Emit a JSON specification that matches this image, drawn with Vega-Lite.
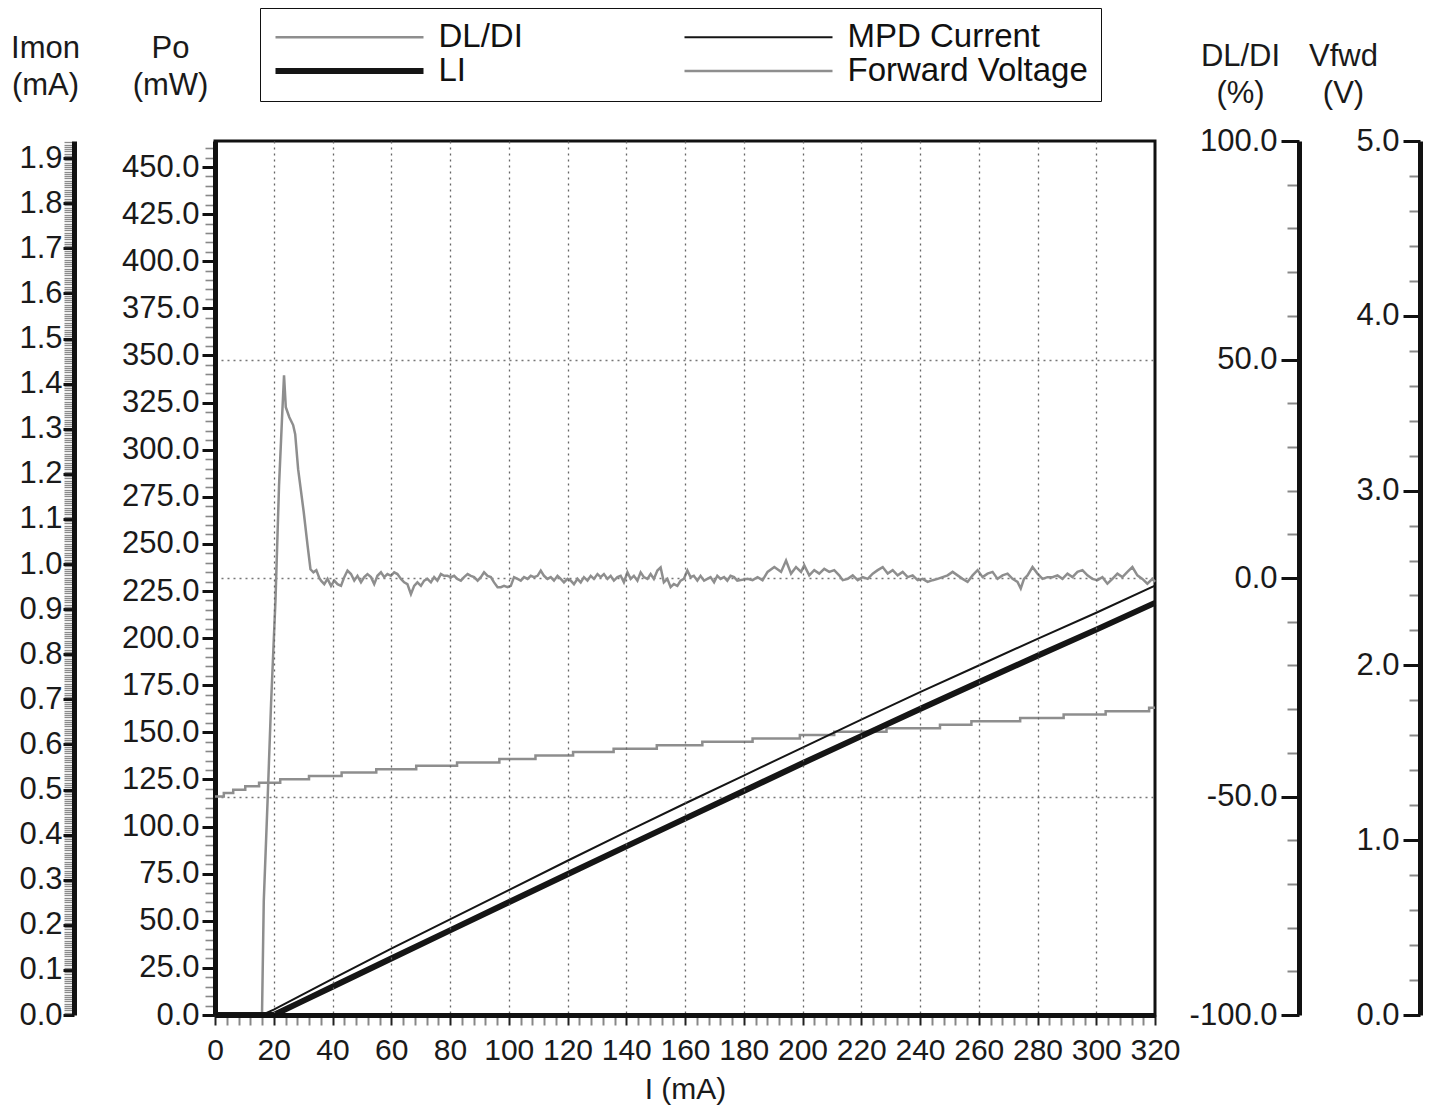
{
"$schema": "https://vega.github.io/schema/vega-lite/v6.json",
"width": 940, "height": 874,
"autosize": {"type": "none"},
"padding": {"left": 215, "top": 141, "right": 280, "bottom": 94},
"background": "white",
"config": {
 "font": "Liberation Sans",
 "view": {"stroke": "#111", "strokeWidth": 3},
 "axis": {"labelFont": "Liberation Sans", "titleFont": "Liberation Sans", "labelColor": "#1a1a1a", "titleColor": "#1a1a1a", "titleFontWeight": "normal", "domainColor": "#111", "domainWidth": 5, "labelOverlap": false, "labelBound": false, "labelFlush": false, "grid": false},
 "legend": {"orient": "none", "legendX": 45, "legendY": -133, "columns": 2, "gridAlign": "all", "columnPadding": 2, "rowPadding": 0, "clipHeight": 33, "symbolType": "stroke", "symbolSize": 21904, "labelFontSize": 33, "labelFont": "Liberation Sans", "labelColor": "#111", "labelOffset": 12, "labelLimit": 0, "padding": 12.5, "strokeColor": "#111", "fillColor": "white"}
},
"datasets": {"d": [
{"s":"DL/DI","I":0,"v":-100},{"s":"DL/DI","I":16,"v":-100},{"s":"DL/DI","I":16.6,"v":-74},{"s":"DL/DI","I":17.9,"v":-51},{"s":"DL/DI","I":19.1,"v":-28.5},{"s":"DL/DI","I":20.6,"v":-4.9},{"s":"DL/DI","I":21.8,"v":21.2},{"s":"DL/DI","I":22.8,"v":36.3},{"s":"DL/DI","I":23.5,"v":46.4},{"s":"DL/DI","I":24.1,"v":39.1},{"s":"DL/DI","I":25.3,"v":36.8},{"s":"DL/DI","I":26.6,"v":35.0},{"s":"DL/DI","I":27.3,"v":32.9},{"s":"DL/DI","I":28.3,"v":24.9},{"s":"DL/DI","I":30.2,"v":15.1},{"s":"DL/DI","I":31.5,"v":7.5},{"s":"DL/DI","I":32.5,"v":2.0},{"s":"DL/DI","I":33.5,"v":1.3},{"s":"DL/DI","I":34.5,"v":1.8},{"s":"DL/DI","I":35.5,"v":0.0},
{"s":"DL/DI","I":36.1,"v":-0.6},{"s":"DL/DI","I":37.2,"v":-1.4},{"s":"DL/DI","I":38.3,"v":-0.2},{"s":"DL/DI","I":39.5,"v":-1.8},{"s":"DL/DI","I":40.6,"v":-0.6},{"s":"DL/DI","I":41.7,"v":-1.4},{"s":"DL/DI","I":42.9,"v":-1.8},{"s":"DL/DI","I":44.0,"v":0.2},{"s":"DL/DI","I":45.1,"v":1.7},{"s":"DL/DI","I":46.3,"v":0.9},{"s":"DL/DI","I":47.4,"v":-0.6},{"s":"DL/DI","I":48.5,"v":0.5},{"s":"DL/DI","I":49.7,"v":-1.0},{"s":"DL/DI","I":50.8,"v":0.2},{"s":"DL/DI","I":51.9,"v":0.9},{"s":"DL/DI","I":53.1,"v":0.2},{"s":"DL/DI","I":54.2,"v":-1.4},{"s":"DL/DI","I":55.3,"v":0.5},{"s":"DL/DI","I":56.5,"v":1.3},{"s":"DL/DI","I":57.6,"v":0.2},{"s":"DL/DI","I":58.7,"v":0.9},{"s":"DL/DI","I":59.9,"v":0.5},{"s":"DL/DI","I":61.0,"v":1.3},{"s":"DL/DI","I":62.1,"v":0.9},{"s":"DL/DI","I":63.3,"v":-0.2},{"s":"DL/DI","I":64.4,"v":-1.0},{"s":"DL/DI","I":65.5,"v":-1.4},{"s":"DL/DI","I":66.7,"v":-3.7},{"s":"DL/DI","I":67.8,"v":-1.8},{"s":"DL/DI","I":68.9,"v":-1.0},{"s":"DL/DI","I":70.1,"v":-1.8},{"s":"DL/DI","I":71.2,"v":-0.6},{"s":"DL/DI","I":72.3,"v":-0.2},{"s":"DL/DI","I":73.5,"v":-1.0},{"s":"DL/DI","I":74.6,"v":0.2},{"s":"DL/DI","I":75.7,"v":-0.6},{"s":"DL/DI","I":76.9,"v":0.9},{"s":"DL/DI","I":78.0,"v":0.5},{"s":"DL/DI","I":79.1,"v":0.5},{"s":"DL/DI","I":80.3,"v":0.2},{"s":"DL/DI","I":81.4,"v":0.5},{"s":"DL/DI","I":82.5,"v":-0.2},{"s":"DL/DI","I":83.7,"v":-0.6},{"s":"DL/DI","I":84.8,"v":0.2},{"s":"DL/DI","I":86.0,"v":0.9},{"s":"DL/DI","I":87.1,"v":0.5},{"s":"DL/DI","I":88.2,"v":0.2},{"s":"DL/DI","I":89.4,"v":-0.6},{"s":"DL/DI","I":90.5,"v":0.2},{"s":"DL/DI","I":91.6,"v":1.3},{"s":"DL/DI","I":92.8,"v":0.5},{"s":"DL/DI","I":93.9,"v":0.2},{"s":"DL/DI","I":95.0,"v":-1.0},{"s":"DL/DI","I":96.2,"v":-2.1},{"s":"DL/DI","I":97.3,"v":-2.1},{"s":"DL/DI","I":98.4,"v":-1.8},{"s":"DL/DI","I":99.6,"v":-2.1},{"s":"DL/DI","I":100.7,"v":-1.8},{"s":"DL/DI","I":101.8,"v":0.2},{"s":"DL/DI","I":103.0,"v":-0.2},{"s":"DL/DI","I":104.1,"v":-0.6},{"s":"DL/DI","I":105.2,"v":0.2},{"s":"DL/DI","I":106.4,"v":-0.2},{"s":"DL/DI","I":107.5,"v":0.5},{"s":"DL/DI","I":108.6,"v":0.2},{"s":"DL/DI","I":109.8,"v":0.5},{"s":"DL/DI","I":110.9,"v":1.7},{"s":"DL/DI","I":112.0,"v":0.5},{"s":"DL/DI","I":113.2,"v":-0.2},{"s":"DL/DI","I":114.3,"v":0.2},{"s":"DL/DI","I":115.4,"v":-0.6},{"s":"DL/DI","I":116.6,"v":0.5},{"s":"DL/DI","I":117.7,"v":-0.2},{"s":"DL/DI","I":118.8,"v":-1.0},{"s":"DL/DI","I":120.0,"v":-0.2},{"s":"DL/DI","I":121.1,"v":-0.6},{"s":"DL/DI","I":122.2,"v":-1.4},{"s":"DL/DI","I":123.4,"v":-0.2},{"s":"DL/DI","I":124.5,"v":-1.0},{"s":"DL/DI","I":125.6,"v":0.2},{"s":"DL/DI","I":126.8,"v":-0.6},{"s":"DL/DI","I":127.9,"v":0.5},{"s":"DL/DI","I":129.0,"v":-0.2},{"s":"DL/DI","I":130.2,"v":0.9},{"s":"DL/DI","I":131.3,"v":0.2},{"s":"DL/DI","I":132.4,"v":0.9},{"s":"DL/DI","I":133.6,"v":-0.2},{"s":"DL/DI","I":134.7,"v":0.5},{"s":"DL/DI","I":135.8,"v":-0.6},{"s":"DL/DI","I":137.0,"v":0.2},{"s":"DL/DI","I":138.1,"v":0.5},{"s":"DL/DI","I":139.2,"v":-1.0},{"s":"DL/DI","I":140.4,"v":1.3},{"s":"DL/DI","I":141.5,"v":-0.2},{"s":"DL/DI","I":142.6,"v":0.5},{"s":"DL/DI","I":143.8,"v":-0.6},{"s":"DL/DI","I":144.9,"v":1.3},{"s":"DL/DI","I":146.0,"v":0.2},{"s":"DL/DI","I":147.2,"v":-0.2},{"s":"DL/DI","I":148.3,"v":0.9},{"s":"DL/DI","I":149.4,"v":-0.2},{"s":"DL/DI","I":150.6,"v":1.7},{"s":"DL/DI","I":151.7,"v":2.4},{"s":"DL/DI","I":152.8,"v":-1.0},{"s":"DL/DI","I":154.0,"v":-0.2},{"s":"DL/DI","I":155.1,"v":-2.1},{"s":"DL/DI","I":156.2,"v":-1.4},{"s":"DL/DI","I":157.4,"v":-1.8},{"s":"DL/DI","I":158.5,"v":-0.6},{"s":"DL/DI","I":159.6,"v":-0.2},{"s":"DL/DI","I":160.8,"v":1.7},{"s":"DL/DI","I":161.9,"v":0.2},{"s":"DL/DI","I":163.0,"v":0.5},{"s":"DL/DI","I":164.2,"v":-0.6},{"s":"DL/DI","I":165.3,"v":0.5},{"s":"DL/DI","I":166.5,"v":-0.6},{"s":"DL/DI","I":167.6,"v":-0.2},{"s":"DL/DI","I":168.7,"v":0.2},{"s":"DL/DI","I":169.9,"v":-1.0},{"s":"DL/DI","I":171.0,"v":0.5},{"s":"DL/DI","I":172.1,"v":-0.2},{"s":"DL/DI","I":173.3,"v":0.2},{"s":"DL/DI","I":174.4,"v":-0.6},{"s":"DL/DI","I":175.5,"v":0.5},{"s":"DL/DI","I":176.7,"v":0.2},{"s":"DL/DI","I":177.8,"v":-0.6},
{"s":"DL/DI","I":181.3,"v":-0.2},{"s":"DL/DI","I":183.0,"v":-0.5},{"s":"DL/DI","I":184.7,"v":0.2},{"s":"DL/DI","I":186.4,"v":-0.5},{"s":"DL/DI","I":188.1,"v":1.4},{"s":"DL/DI","I":190.4,"v":2.5},{"s":"DL/DI","I":192.7,"v":1.4},{"s":"DL/DI","I":194.4,"v":4.0},{"s":"DL/DI","I":196.1,"v":1.0},{"s":"DL/DI","I":197.8,"v":2.5},{"s":"DL/DI","I":199.5,"v":1.4},{"s":"DL/DI","I":200.6,"v":2.9},{"s":"DL/DI","I":202.3,"v":0.6},{"s":"DL/DI","I":204.0,"v":1.8},{"s":"DL/DI","I":205.7,"v":1.0},{"s":"DL/DI","I":207.4,"v":2.1},{"s":"DL/DI","I":209.1,"v":1.4},{"s":"DL/DI","I":210.8,"v":1.8},{"s":"DL/DI","I":212.5,"v":0.6},{"s":"DL/DI","I":213.7,"v":-0.5},{"s":"DL/DI","I":215.4,"v":-0.2},{"s":"DL/DI","I":217.1,"v":0.6},{"s":"DL/DI","I":218.8,"v":-0.5},{"s":"DL/DI","I":220.5,"v":0.2},{"s":"DL/DI","I":222.2,"v":-0.2},{"s":"DL/DI","I":223.9,"v":1.0},{"s":"DL/DI","I":225.6,"v":1.8},{"s":"DL/DI","I":227.3,"v":2.5},{"s":"DL/DI","I":229.0,"v":1.0},{"s":"DL/DI","I":230.7,"v":1.8},{"s":"DL/DI","I":232.4,"v":0.6},{"s":"DL/DI","I":234.1,"v":1.4},{"s":"DL/DI","I":235.8,"v":0.2},{"s":"DL/DI","I":237.5,"v":0.6},{"s":"DL/DI","I":239.2,"v":-0.5},{"s":"DL/DI","I":240.9,"v":-0.2},{"s":"DL/DI","I":242.6,"v":-0.9},{"s":"DL/DI","I":244.3,"v":-0.5},{"s":"DL/DI","I":246.0,"v":-0.2},{"s":"DL/DI","I":247.7,"v":0.2},{"s":"DL/DI","I":249.4,"v":0.6},{"s":"DL/DI","I":251.1,"v":1.4},{"s":"DL/DI","I":252.8,"v":0.6},{"s":"DL/DI","I":254.5,"v":-0.2},{"s":"DL/DI","I":256.2,"v":-0.9},{"s":"DL/DI","I":257.9,"v":0.6},{"s":"DL/DI","I":259.6,"v":1.8},{"s":"DL/DI","I":261.3,"v":0.2},{"s":"DL/DI","I":263.0,"v":1.0},{"s":"DL/DI","I":264.7,"v":1.4},{"s":"DL/DI","I":266.4,"v":-0.2},{"s":"DL/DI","I":268.1,"v":0.6},{"s":"DL/DI","I":269.8,"v":1.0},{"s":"DL/DI","I":271.5,"v":-0.2},{"s":"DL/DI","I":273.2,"v":-0.9},{"s":"DL/DI","I":274.3,"v":-2.4},{"s":"DL/DI","I":275.4,"v":-0.2},{"s":"DL/DI","I":276.6,"v":0.6},{"s":"DL/DI","I":278.3,"v":2.5},{"s":"DL/DI","I":280.0,"v":1.0},{"s":"DL/DI","I":281.7,"v":-0.2},{"s":"DL/DI","I":283.4,"v":0.2},{"s":"DL/DI","I":285.1,"v":0.2},{"s":"DL/DI","I":286.8,"v":0.6},{"s":"DL/DI","I":288.5,"v":-0.2},{"s":"DL/DI","I":290.2,"v":1.0},{"s":"DL/DI","I":291.9,"v":0.2},{"s":"DL/DI","I":293.6,"v":1.4},{"s":"DL/DI","I":295.3,"v":1.8},{"s":"DL/DI","I":297.0,"v":0.6},{"s":"DL/DI","I":298.7,"v":-0.2},{"s":"DL/DI","I":300.4,"v":-0.5},{"s":"DL/DI","I":302.1,"v":0.2},{"s":"DL/DI","I":303.8,"v":-1.3},{"s":"DL/DI","I":305.5,"v":-0.2},{"s":"DL/DI","I":307.2,"v":1.0},{"s":"DL/DI","I":308.9,"v":0.2},{"s":"DL/DI","I":310.6,"v":1.4},{"s":"DL/DI","I":312.3,"v":2.5},{"s":"DL/DI","I":314.0,"v":0.6},{"s":"DL/DI","I":315.7,"v":-0.2},{"s":"DL/DI","I":317.4,"v":-1.3},{"s":"DL/DI","I":319.1,"v":-0.2},{"s":"DL/DI","I":320.0,"v":-0.9},
{"s":"LI","I":0,"v":0},{"s":"LI","I":10,"v":0},{"s":"LI","I":20,"v":0},{"s":"LI","I":30,"v":7.5},{"s":"LI","I":40,"v":15.0},{"s":"LI","I":60,"v":30.0},{"s":"LI","I":80,"v":44.9},{"s":"LI","I":100,"v":59.8},{"s":"LI","I":120,"v":74.7},{"s":"LI","I":140,"v":89.5},{"s":"LI","I":160,"v":104.2},{"s":"LI","I":180,"v":118.9},{"s":"LI","I":200,"v":133.6},{"s":"LI","I":220,"v":148.0},{"s":"LI","I":240,"v":162.4},{"s":"LI","I":260,"v":176.6},{"s":"LI","I":280,"v":190.6},{"s":"LI","I":300,"v":204.5},{"s":"LI","I":320,"v":218.7},
{"s":"MPD Current","I":0,"v":0},{"s":"MPD Current","I":16,"v":0},{"s":"MPD Current","I":20,"v":0.012},{"s":"MPD Current","I":40,"v":0.080},{"s":"MPD Current","I":60,"v":0.147},{"s":"MPD Current","I":80,"v":0.212},{"s":"MPD Current","I":100,"v":0.277},{"s":"MPD Current","I":120,"v":0.342},{"s":"MPD Current","I":140,"v":0.406},{"s":"MPD Current","I":160,"v":0.469},{"s":"MPD Current","I":180,"v":0.531},{"s":"MPD Current","I":200,"v":0.593},{"s":"MPD Current","I":220,"v":0.655},{"s":"MPD Current","I":240,"v":0.716},{"s":"MPD Current","I":260,"v":0.775},{"s":"MPD Current","I":280,"v":0.834},{"s":"MPD Current","I":300,"v":0.892},{"s":"MPD Current","I":320,"v":0.952},
{"s":"Forward Voltage","I":0,"v":1.250},{"s":"Forward Voltage","I":3.0,"v":1.270},{"s":"Forward Voltage","I":6.2,"v":1.289},{"s":"Forward Voltage","I":10.3,"v":1.309},{"s":"Forward Voltage","I":15.0,"v":1.328},{"s":"Forward Voltage","I":22.2,"v":1.348},{"s":"Forward Voltage","I":32.0,"v":1.367},{"s":"Forward Voltage","I":43.1,"v":1.387},{"s":"Forward Voltage","I":54.9,"v":1.406},{"s":"Forward Voltage","I":68.5,"v":1.426},{"s":"Forward Voltage","I":82.4,"v":1.445},{"s":"Forward Voltage","I":96.8,"v":1.465},{"s":"Forward Voltage","I":109.1,"v":1.484},{"s":"Forward Voltage","I":121.9,"v":1.504},{"s":"Forward Voltage","I":135.7,"v":1.523},{"s":"Forward Voltage","I":150.4,"v":1.543},{"s":"Forward Voltage","I":165.9,"v":1.563},{"s":"Forward Voltage","I":183.0,"v":1.582},{"s":"Forward Voltage","I":199.1,"v":1.602},{"s":"Forward Voltage","I":210.8,"v":1.621},{"s":"Forward Voltage","I":228.6,"v":1.641},{"s":"Forward Voltage","I":246.8,"v":1.660},{"s":"Forward Voltage","I":257.5,"v":1.680},{"s":"Forward Voltage","I":274.1,"v":1.699},{"s":"Forward Voltage","I":288.9,"v":1.719},{"s":"Forward Voltage","I":303.2,"v":1.738},{"s":"Forward Voltage","I":318.0,"v":1.758},{"s":"Forward Voltage","I":320,"v":1.758}
]},
"data": {"name": "d"},
"encoding": {
 "x": {"field": "I", "type": "quantitative", "scale": {"domain": [0, 320], "nice": false},
  "axis": {"title": "I (mA)", "zindex": 1,
   "values": [0,4,8,12,16,20,24,28,32,36,40,44,48,52,56,60,64,68,72,76,80,84,88,92,96,100,104,108,112,116,120,124,128,132,136,140,144,148,152,156,160,164,168,172,176,180,184,188,192,196,200,204,208,212,216,220,224,228,232,236,240,244,248,252,256,260,264,268,272,276,280,284,288,292,296,300,304,308,312,316,320],
   "labelExpr": "datum.value % 20 == 0 ? datum.label : ''",
   "labelFontSize": 30, "labelPadding": 10, "tickSize": 10, "tickWidth": 2,
   "tickColor": {"condition": {"test": "datum.value % 20 == 0", "value": "#222"}, "value": "#888"},
   "grid": true, "gridDash": [2, 4], "gridColor": "#666", "gridWidth": 1.3,
   "gridOpacity": {"condition": {"test": "datum.value % 20 == 0 && datum.value > 0 && datum.value < 320", "value": 1}, "value": 0},
   "titleFontSize": 30, "titleY": 83, "titleBaseline": "alphabetic"}},
 "color": {"field": "s", "type": "ordinal",
  "scale": {"type": "ordinal", "domain": ["DL/DI", "LI", "MPD Current", "Forward Voltage"], "range": ["#8e8e8e", "#151515", "#151515", "#8e8e8e"]},
  "legend": {"title": null}},
 "strokeWidth": {"field": "s", "type": "ordinal",
  "scale": {"type": "ordinal", "domain": ["DL/DI", "LI", "MPD Current", "Forward Voltage"], "range": [2.5, 6, 2, 2.5]},
  "legend": {"title": null}}
},
"layer": [
 {"transform": [{"filter": "datum.s == 'Forward Voltage'"}],
  "mark": {"type": "line", "interpolate": "step-after"},
  "encoding": {"y": {"field": "v", "type": "quantitative", "scale": {"domain": [0, 5], "nice": false, "zero": false},
   "axis": {"orient": "left", "offset": -1205, "title": ["Vfwd", "(V)"], "titleAngle": 0, "titleAlign": "center", "titleBaseline": "alphabetic", "titleX": -77, "titleY": -76, "titleFontSize": 31, "titleLineHeight": 37,
    "tickCount": 25, "labelExpr": "abs(datum.value - round(datum.value)) < 0.000001 ? format(datum.value, '.1f') : ''",
    "labelFontSize": 31, "labelPadding": 4,
    "tickSize": {"condition": {"test": "abs(datum.value - round(datum.value)) < 0.000001", "value": 17}, "value": 11},
    "tickWidth": {"condition": {"test": "abs(datum.value - round(datum.value)) < 0.000001", "value": 3}, "value": 2},
    "tickColor": {"condition": {"test": "abs(datum.value - round(datum.value)) < 0.000001", "value": "#111"}, "value": "#888"}}}}},
 {"transform": [{"filter": "datum.s == 'DL/DI'"}],
  "mark": {"type": "line"},
  "encoding": {"y": {"field": "v", "type": "quantitative", "scale": {"domain": [-100, 100], "nice": false, "zero": false},
   "axis": {"orient": "left", "offset": -1084, "title": ["DL/DI", "(%)"], "titleAngle": 0, "titleAlign": "center", "titleBaseline": "alphabetic", "titleX": -59, "titleY": -76, "titleFontSize": 31, "titleLineHeight": 37,
    "tickCount": 20, "labelExpr": "datum.value % 50 == 0 ? (datum.value < 0 ? '-' + format(-datum.value, '.1f') : format(datum.value, '.1f')) : ''",
    "labelFontSize": 31, "labelPadding": 4,
    "tickSize": {"condition": {"test": "datum.value % 50 == 0", "value": 18}, "value": 12},
    "tickWidth": {"condition": {"test": "datum.value % 50 == 0", "value": 3}, "value": 2},
    "tickColor": {"condition": {"test": "datum.value % 50 == 0", "value": "#111"}, "value": "#888"},
    "grid": true, "gridDash": [2, 4], "gridColor": "#777", "gridWidth": 1.3,
    "gridOpacity": {"condition": {"test": "datum.value == 50 || datum.value == 0 || datum.value == -50", "value": 1}, "value": 0}}}}},
 {"transform": [{"filter": "datum.s == 'MPD Current'"}],
  "mark": {"type": "line"},
  "encoding": {"y": {"field": "v", "type": "quantitative", "scale": {"domain": [0, 1.938], "nice": false, "zero": false},
   "axis": {"orient": "left", "offset": 141, "title": ["Imon", "(mA)"], "titleAngle": 0, "titleAlign": "center", "titleBaseline": "alphabetic", "titleX": -29, "titleY": -84, "titleFontSize": 31, "titleLineHeight": 37,
    "tickCount": 390, "labelExpr": "abs(datum.value*10 - round(datum.value*10)) < 0.000001 ? format(datum.value, '.1f') : ''",
    "labelFontSize": 31, "labelPadding": 1,
    "tickSize": {"condition": {"test": "abs(datum.value*10 - round(datum.value*10)) < 0.000001", "value": 11}, "value": 10},
    "tickWidth": {"condition": {"test": "abs(datum.value*10 - round(datum.value*10)) < 0.000001", "value": 3}, "value": 1.3},
    "tickColor": {"condition": {"test": "abs(datum.value*10 - round(datum.value*10)) < 0.000001", "value": "#111"}, "value": "#8a8a8a"}}}}},
 {"transform": [{"filter": "datum.s == 'LI'"}],
  "mark": {"type": "line"},
  "encoding": {"y": {"field": "v", "type": "quantitative", "scale": {"domain": [0, 463.8], "nice": false, "zero": false},
   "axis": {"orient": "left", "offset": 0, "title": ["Po", "(mW)"], "titleAngle": 0, "titleAlign": "center", "titleBaseline": "alphabetic", "titleX": -45, "titleY": -84, "titleFontSize": 31, "titleLineHeight": 37,
    "tickCount": 100, "labelExpr": "datum.value % 25 == 0 ? format(datum.value, '.1f') : ''",
    "labelFontSize": 31, "labelPadding": 3,
    "tickSize": {"condition": {"test": "datum.value % 25 == 0", "value": 13}, "value": 10},
    "tickWidth": {"condition": {"test": "datum.value % 25 == 0", "value": 3}, "value": 1.6},
    "tickColor": {"condition": {"test": "datum.value % 25 == 0", "value": "#111"}, "value": "#888"}}}}}
],
"resolve": {"scale": {"y": "independent"}, "axis": {"y": "independent"}}
}
